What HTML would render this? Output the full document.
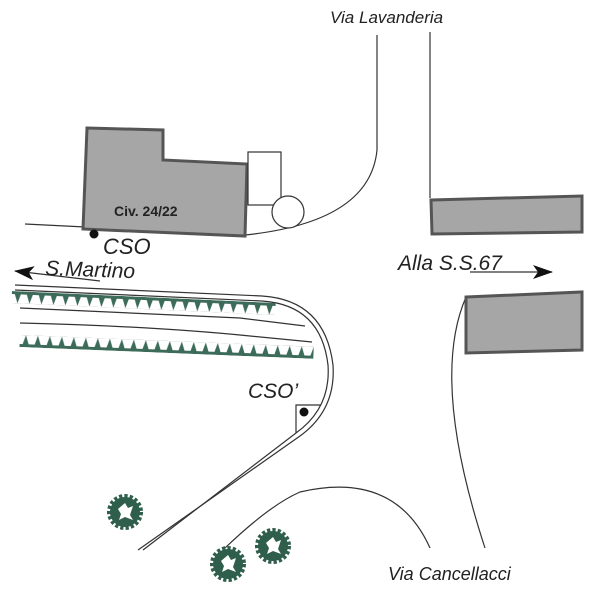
<!DOCTYPE html>
<html><head><style>body{margin:0;background:#fff}svg{display:block}text{font-family:"Liberation Sans",sans-serif;font-style:italic;fill:#222}</style></head>
<body>
<svg width="600" height="600" viewBox="0 0 600 600">
<defs>
<g id="tree"><circle r="15" fill="#2f5e4c" stroke="#2f5e4c" stroke-width="6" stroke-dasharray="3 2"/><path d="M-7,-3 L0,-9 L3,-4 L8,-6 L5,3 L8,8 L0,5 L-6,8 L-4,2 Z" fill="#fff"/></g>
<pattern id="tdown" patternUnits="userSpaceOnUse" x="0" y="0" width="12" height="12"><path d="M0,0 L12,0 L12,3 L9,3 L6,12 L3,3 L0,3 Z" fill="#3c6b5a"/></pattern>
<pattern id="tup" patternUnits="userSpaceOnUse" x="0" y="0" width="12" height="12"><path d="M0,12 L12,12 L12,9 L9,9 L6,0 L3,9 L0,9 Z" fill="#3c6b5a"/></pattern>
<marker id="ah" markerWidth="20" markerHeight="14" refX="19" refY="7" orient="auto" markerUnits="userSpaceOnUse"><path d="M0,0 L20,7 L0,14 L5,7 Z" fill="#111"/></marker>
</defs>
<g fill="none" stroke="#333" stroke-width="1.2">
<path d="M377,35 L377,150 Q370,222 245,235"/>
<path d="M430,32 L430,198"/>
<path d="M25,224 L245,235"/>
<path d="M15,285 L262,296 Q325,300 333,365 Q336,410 300,436 L138,550"/>
<path d="M15,290 L262,301 Q321,305 328,365 Q331,408 296,433 L143,550"/>
<path d="M20,308 L240,318 L305,326"/>
<path d="M20,323 Q150,326 250,336 L312,342"/>
<path d="M296,433 L296,405 L321,405"/>
<path d="M225,548 Q270,505 300,492 Q395,470 430,548"/>
<path d="M466,297 Q430,380 485,548"/>
<path d="M100,281 L15,271" marker-end="url(#ah)"/>
<path d="M470,272 L552,272" marker-end="url(#ah)"/>
</g>
<g transform="translate(12,291) rotate(2.6)"><rect x="0" y="0" width="264" height="12" fill="url(#tdown)"/></g>
<g transform="translate(20,335) rotate(2.3)"><rect x="0" y="0" width="294" height="12" fill="url(#tup)"/></g>
<path d="M87,128 L163,130 L163,160 L247,164 L245,236 L83,229 Z" fill="#a6a6a6" stroke="#555" stroke-width="3"/>
<rect x="248" y="152" width="33" height="53" fill="#fff" stroke="#333" stroke-width="1.2"/>
<circle cx="288" cy="212" r="16" fill="#fff" stroke="#333" stroke-width="1.2"/>
<path d="M431,200 L582,196 L582,232 L432,234 Z" fill="#a6a6a6" stroke="#555" stroke-width="3"/>
<path d="M466,297 L582,292 L582,350 L466,353 Z" fill="#a6a6a6" stroke="#555" stroke-width="3"/>
<circle cx="94" cy="234" r="4.5" fill="#111"/>
<circle cx="304" cy="412" r="4.5" fill="#111"/>
<text x="103" y="254" font-size="22">CSO</text>
<text x="45" y="275" font-size="21" transform="rotate(2 45 275)">S.Martino</text>
<text x="114" y="216" font-size="14" style="font-style:normal;font-weight:bold">Civ. 24/22</text>
<text x="330" y="23" font-size="17">Via Lavanderia</text>
<text x="398" y="270" font-size="21">Alla S.S.67</text>
<text x="248" y="398" font-size="21">CSO’</text>
<text x="388" y="580" font-size="18">Via Cancellacci</text>
<use href="#tree" x="125" y="512"/>
<use href="#tree" x="228" y="564"/>
<use href="#tree" x="273" y="546"/>
</svg>
</body></html>
